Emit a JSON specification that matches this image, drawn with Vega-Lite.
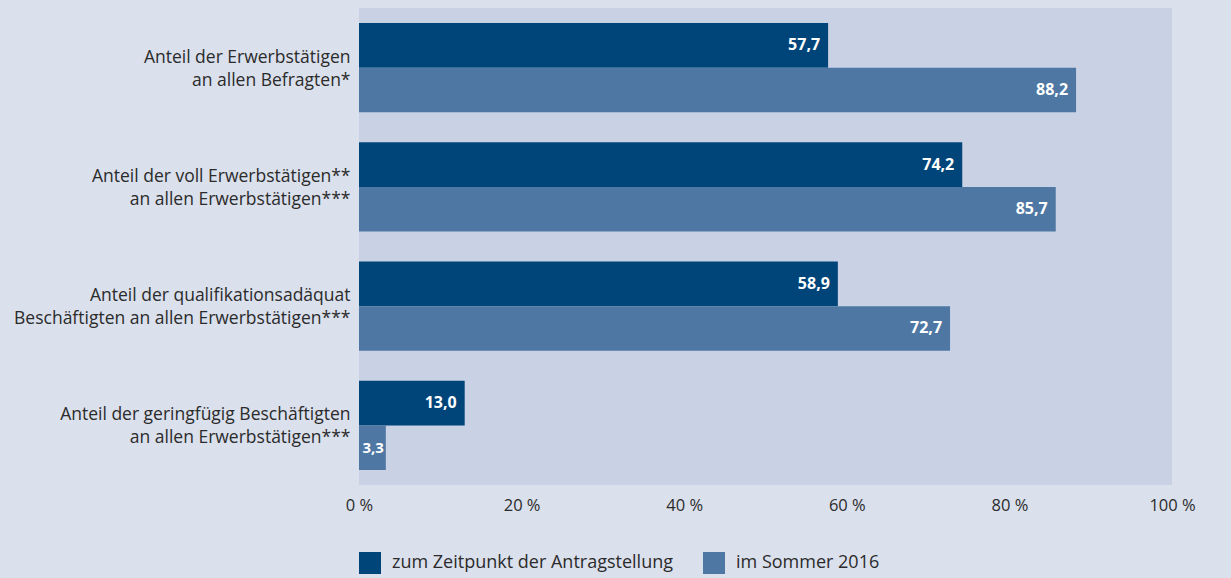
{
  "$schema": "https://vega.github.io/schema/vega-lite/v6.json",
  "width": 813,
  "height": 477,
  "autosize": {"type": "none"},
  "padding": {"left": 359, "top": 8, "right": 59, "bottom": 93},
  "background": "#dae0ec",
  "config": {
    "view": {"fill": "#c9d2e5", "stroke": null},
    "font": "Open Sans",
    "locale": {"number": {"decimal": ",", "thousands": ".", "grouping": [3], "currency": ["", " €"]}}
  },
  "data": {
    "values": [
      {"cat": "Anteil der Erwerbstätigen|an allen Befragten*", "series": "zum Zeitpunkt der Antragstellung", "value": 57.7},
      {"cat": "Anteil der Erwerbstätigen|an allen Befragten*", "series": "im Sommer 2016", "value": 88.2},
      {"cat": "Anteil der voll Erwerbstätigen**|an allen Erwerbstätigen***", "series": "zum Zeitpunkt der Antragstellung", "value": 74.2},
      {"cat": "Anteil der voll Erwerbstätigen**|an allen Erwerbstätigen***", "series": "im Sommer 2016", "value": 85.7},
      {"cat": "Anteil der qualifikationsadäquat|Beschäftigten an allen Erwerbstätigen***", "series": "zum Zeitpunkt der Antragstellung", "value": 58.9},
      {"cat": "Anteil der qualifikationsadäquat|Beschäftigten an allen Erwerbstätigen***", "series": "im Sommer 2016", "value": 72.7},
      {"cat": "Anteil der geringfügig Beschäftigten|an allen Erwerbstätigen***", "series": "zum Zeitpunkt der Antragstellung", "value": 13.0},
      {"cat": "Anteil der geringfügig Beschäftigten|an allen Erwerbstätigen***", "series": "im Sommer 2016", "value": 3.3}
    ]
  },
  "encoding": {
    "y": {
      "field": "cat", "type": "nominal", "sort": null, "title": null,
      "scale": {"paddingInner": 0.25, "paddingOuter": 0.125},
      "axis": {
        "labelExpr": "split(datum.label, '|')",
        "labelFontSize": 17.5, "labelColor": "#2b2b2b", "labelLineHeight": 23,
        "labelOffset": -10, "labelPadding": 9, "ticks": false, "domain": false, "labelLimit": 400
      }
    },
    "yOffset": {
      "field": "series", "type": "nominal",
      "sort": ["zum Zeitpunkt der Antragstellung", "im Sommer 2016"]
    },
    "x": {
      "field": "value", "type": "quantitative", "title": null,
      "scale": {"domain": [0, 100]},
      "axis": {
        "values": [0, 20, 40, 60, 80, 100],
        "labelExpr": "datum.value + ' %'",
        "labelFlush": false,
        "grid": false, "ticks": false, "domain": false,
        "labelFontSize": 16.5, "labelColor": "#2b2b2b", "labelPadding": 12
      }
    }
  },
  "layer": [
    {
      "mark": {"type": "bar"},
      "encoding": {
        "color": {
          "field": "series", "type": "nominal",
          "scale": {"domain": ["zum Zeitpunkt der Antragstellung", "im Sommer 2016"], "range": ["#00457a", "#4e78a3"]},
          "legend": {
            "title": null, "orient": "none", "legendX": 0, "legendY": 544,
            "direction": "horizontal", "symbolType": "square", "symbolSize": 484,
            "symbolStrokeWidth": 0, "symbolOpacity": 1,
            "labelFontSize": 18, "labelColor": "#2b2b2b", "columnPadding": 30, "labelOffset": 11, "labelLimit": 400
          }
        }
      }
    },
    {
      "transform": [{"filter": "datum.value >= 10"}],
      "mark": {"type": "text", "align": "right", "dx": -8, "fontWeight": "bold", "fontSize": 16, "color": "#ffffff"},
      "encoding": {
        "text": {"field": "value", "type": "quantitative", "format": ".1f"}
      }
    },
    {
      "transform": [{"filter": "datum.value < 10"}],
      "mark": {"type": "text", "align": "right", "dx": -2, "fontWeight": "bold", "fontSize": 15, "color": "#ffffff"},
      "encoding": {
        "text": {"field": "value", "type": "quantitative", "format": ".1f"}
      }
    }
  ]
}
